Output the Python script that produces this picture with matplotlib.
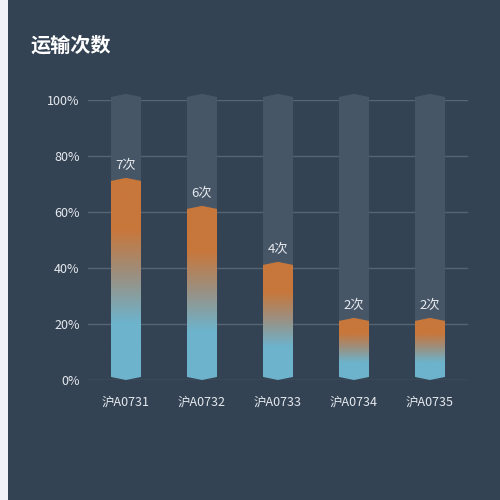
import numpy as np
import matplotlib
matplotlib.use("Agg")
import matplotlib.pyplot as plt
from matplotlib.patches import Polygon, Rectangle
from matplotlib.colors import LinearSegmentedColormap

plt.rcParams['font.family'] = ['Noto Sans CJK SC', 'DejaVu Sans']

# data
plates = ['沪A0731', '沪A0732', '沪A0733', '沪A0734', '沪A0735']
counts = [7, 6, 4, 2, 2]
max_count = 10
percents = [c / max_count * 100 for c in counts]
yticks = [0, 20, 40, 60, 80, 100]

BG = '#344354'
TRACK = '#465667'
GRID = '#566474'
TXT = '#e6e9ee'

grad = LinearSegmentedColormap.from_list(
    'bar', [(0.0, '#6db3cc'), (0.28, '#6db3cc'), (0.52, '#9c8f7f'),
            (0.74, '#c8773b'), (1.0, '#c8773b')])

fig = plt.figure(figsize=(5, 5), dpi=100)
fig.patch.set_facecolor('#f0f2f7')
fig.patches.append(Rectangle((8 / 500, 0), 1, 1, transform=fig.transFigure,
                             facecolor=BG, edgecolor='none', zorder=-10))

ax = fig.add_axes([88 / 500, 120 / 500, 380 / 500, 280 / 500])
ax.set_facecolor('none')
ax.set_xlim(0, len(plates))
ax.set_ylim(0, 100)
for s in ax.spines.values():
    s.set_visible(False)

for t in yticks:
    ax.axhline(t, color=GRID, lw=1, zorder=0)

ax.set_yticks(yticks)
ax.set_yticklabels([f'{t}%' for t in yticks])
ax.set_xticks(np.arange(len(plates)) + 0.5)
ax.set_xticklabels(plates)
ax.tick_params(axis='both', length=0, colors=TXT, labelsize=9)
ax.tick_params(axis='y', pad=6)
ax.tick_params(axis='x', pad=11)

w = 0.395
d = 1.1


def chevron(xc, v):
    return [(xc - w / 2, d), (xc, 0), (xc + w / 2, d),
            (xc + w / 2, v + d), (xc, v + 2 * d), (xc - w / 2, v + d)]


for i, (p, c) in enumerate(zip(percents, counts)):
    xc = i + 0.5
    track = Polygon(chevron(xc, 100), closed=True, facecolor=TRACK,
                    edgecolor='none', zorder=1, clip_on=False)
    ax.add_patch(track)

    shape = Polygon(chevron(xc, p), closed=True, facecolor='none',
                    edgecolor='none', zorder=2, clip_on=False)
    ax.add_patch(shape)
    g = np.linspace(0, 1, 256).reshape(-1, 1)
    im = ax.imshow(g, cmap=grad, origin='lower', aspect='auto',
                   extent=(xc - w / 2, xc + w / 2, 0, p + 2 * d), zorder=2,
                   interpolation='bicubic')
    im.set_clip_path(shape)
    im.set_clip_on(True)

    ax.text(xc, p + 2 * d + 4.3, f'{c}次', ha='center', va='center',
            color=TXT, fontsize=9.5)

ax.set_xlim(0, len(plates))
ax.set_ylim(0, 100)

fig.text(31 / 500, 1 - 45 / 500, '运输次数', ha='left', va='center',
         color='white', fontsize=14.5, fontweight='bold')

fig.savefig('out.png', dpi=100, facecolor=fig.get_facecolor())
